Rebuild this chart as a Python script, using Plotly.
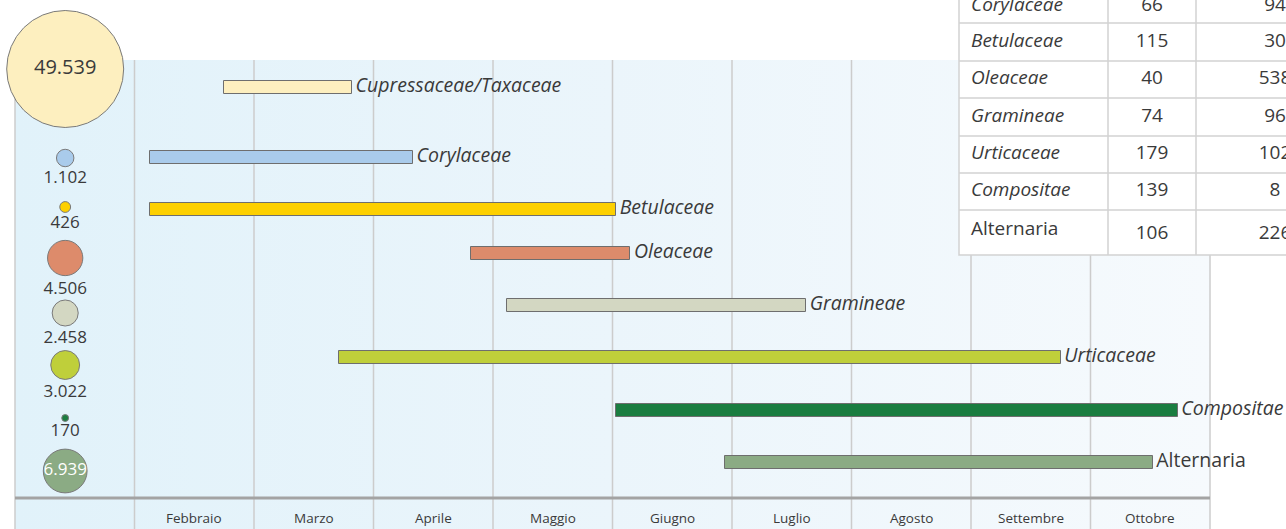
import base64
import plotly.graph_objects as go

# stagioni polliniche: mesi contati da inizio gennaio (1 = inizio febbraio)
taxa = ["Cupressaceae/Taxaceae", "Corylaceae", "Betulaceae", "Oleaceae",
        "Gramineae", "Urticaceae", "Compositae", "Alternaria"]
season_start = [1.75, 1.13, 1.13, 3.82, 4.12, 2.71, 5.03, 5.94]
season_end = [2.82, 3.33, 5.03, 5.15, 6.62, 8.75, 9.73, 9.52]

# totale annuo (bolle)
totals = [49539, 1102, 426, 4506, 2458, 3022, 170, 6939]
total_labels = ["49.539", "1.102", "426", "4.506", "2.458", "3.022", "170", "6.939"]

months = ["Febbraio", "Marzo", "Aprile", "Maggio", "Giugno",
          "Luglio", "Agosto", "Settembre", "Ottobre"]

# tabella in alto a destra (parzialmente tagliata)
table_taxa = ["Corylaceae", "Betulaceae", "Oleaceae", "Gramineae",
              "Urticaceae", "Compositae", "Alternaria"]
table_col1 = [66, 115, 40, 74, 179, 139, 106]
table_col2 = [94, 30, 538, 96, 102, 8, 226]

colors = ["#fdefbf", "#a9cbeb", "#fdd000", "#dd8b6b",
          "#d3d7c2", "#bfcf3a", "#1a7d40", "#8bab84"]

# posizioni verticali (px dall'alto)
bar_rows = [87, 157, 209, 253, 305, 357, 410, 462]
bubble_rows = [69, 158, 207, 258, 313, 365, 418, 471]
table_lines = [-10, 23, 61, 98, 136, 173, 210, 255]
table_cols = [959, 1108, 1196, 1360]

W, H = 1286, 529
X0, UNIT = 15, 119.5            # bordo sinistro del pannello, larghezza di un mese
FONT = "Open Sans"
TXT = "#3a3a3a"


def mx(x):
    # px orizzontali -> unita' mese
    return (x - X0) / UNIT


fig = go.Figure()

# barre stagioni
fig.add_trace(go.Bar(
    y=bar_rows, base=season_start,
    x=[e - s for s, e in zip(season_start, season_end)],
    orientation="h", width=13,
    marker=dict(color=colors, line=dict(color="#6e6e6e", width=1)),
    hoverinfo="skip"))

# etichette delle barre
labels = [t if t == "Alternaria" else "<i>%s</i>" % t for t in taxa]
fig.add_trace(go.Scatter(
    x=[e + 0.03 for e in season_end], y=bar_rows, mode="text",
    text=labels, textposition="middle right",
    textfont=dict(family=FONT, size=19.5, color=TXT),
    cliponaxis=False, hoverinfo="skip"))

# bolle con i totali
fig.add_trace(go.Scatter(
    x=[0.42] * len(totals), y=bubble_rows, mode="markers+text",
    marker=dict(size=totals, sizemode="area", sizeref=7.24, color=colors,
                line=dict(color="#7a7a7a", width=1), opacity=1),
    text=total_labels,
    textposition=["middle center" if i in (0, 7) else "bottom center"
                  for i in range(len(totals))],
    textfont=dict(family=FONT,
                  size=[20 if i == 0 else 17 for i in range(len(totals))],
                  color=["white" if i == 7 else TXT for i in range(len(totals))]),
    cliponaxis=False, hoverinfo="skip"))

# testo della tabella
row_mid = [(a + b) / 2 for a, b in zip(table_lines[:-1], table_lines[1:])]
name_y = [y - 2 if t == "Alternaria" else y for t, y in zip(table_taxa, row_mid)]
num_y = [y + 2 if t == "Alternaria" else y for t, y in zip(table_taxa, row_mid)]
tfont = dict(family=FONT, size=19, color=TXT)
fig.add_trace(go.Scatter(
    x=[mx(971)] * len(table_taxa), y=name_y, mode="text",
    text=[t if t == "Alternaria" else "<i>%s</i>" % t for t in table_taxa],
    textposition="middle right", textfont=tfont, cliponaxis=False, hoverinfo="skip"))
fig.add_trace(go.Scatter(
    x=[mx(1152)] * len(table_taxa), y=num_y, mode="text",
    text=[str(v) for v in table_col1],
    textposition="middle center", textfont=tfont, cliponaxis=False, hoverinfo="skip"))
fig.add_trace(go.Scatter(
    x=[mx(1275)] * len(table_taxa), y=num_y, mode="text",
    text=[str(v) for v in table_col2],
    textposition="middle center", textfont=tfont, cliponaxis=False, hoverinfo="skip"))

# sfondo sfumato del pannello
svg = ('<svg xmlns="http://www.w3.org/2000/svg" width="100" height="10" '
       'viewBox="0 0 100 10" preserveAspectRatio="none"><defs>'
       '<linearGradient id="g" x1="0" y1="0" x2="1" y2="0">'
       '<stop offset="0" stop-color="#e1f2fa"/>'
       '<stop offset="0.5" stop-color="#ebf5fb"/>'
       '<stop offset="1" stop-color="#f6fafd"/>'
       '</linearGradient></defs><rect width="100" height="10" fill="url(#g)"/></svg>')
bg = "data:image/svg+xml;base64," + base64.b64encode(svg.encode()).decode()

shapes = []
# griglia mensile
for m in range(11):
    shapes.append(dict(type="line", xref="x", yref="y", x0=m, x1=m, y0=60, y1=H,
                       line=dict(color="#cccccc", width=1.5), layer="below"))
# linea dell'asse
shapes.append(dict(type="line", xref="x", yref="y", x0=0, x1=10, y0=498, y1=498,
                   line=dict(color="#a3a3a3", width=3), layer="below"))

# tabella (sotto ai testi, sopra la griglia)
grid = dict(color="#d2d2d2", width=1.5)
shapes.append(dict(type="rect", xref="x", yref="y",
                   x0=mx(table_cols[0]), x1=mx(table_cols[-1]),
                   y0=table_lines[0], y1=table_lines[-1],
                   fillcolor="white", line=grid, layer="below"))
for yl in table_lines[1:-1]:
    shapes.append(dict(type="line", xref="x", yref="y",
                       x0=mx(table_cols[0]), x1=mx(table_cols[-1]),
                       y0=yl, y1=yl, line=grid, layer="below"))
for xl in table_cols[1:-1]:
    shapes.append(dict(type="line", xref="x", yref="y", x0=mx(xl), x1=mx(xl),
                       y0=table_lines[0], y1=table_lines[-1], line=grid, layer="below"))

annotations = []
for i, name in enumerate(months):
    annotations.append(dict(x=i + 1.5, y=518, xref="x", yref="y", text=name,
                            showarrow=False, font=dict(family=FONT, size=13.5, color=TXT)))

fig.update_layout(
    width=W, height=H, margin=dict(l=0, r=0, t=0, b=0),
    paper_bgcolor="white", plot_bgcolor="white", showlegend=False,
    xaxis=dict(range=[mx(0), mx(W)], visible=False, fixedrange=True),
    yaxis=dict(range=[H, 0], visible=False, fixedrange=True),
    images=[dict(source=bg, xref="paper", yref="paper",
                 x=X0 / W, y=1 - 60 / H,
                 sizex=10 * UNIT / W, sizey=(H - 60) / H,
                 xanchor="left", yanchor="top", sizing="stretch", layer="below")],
    shapes=shapes, annotations=annotations, bargap=0)

# niente margine del body, la figura parte dall'angolo della pagina
fig.write_html("out.html", config={"displayModeBar": False},
               post_script="document.body.style.margin = '0';")
